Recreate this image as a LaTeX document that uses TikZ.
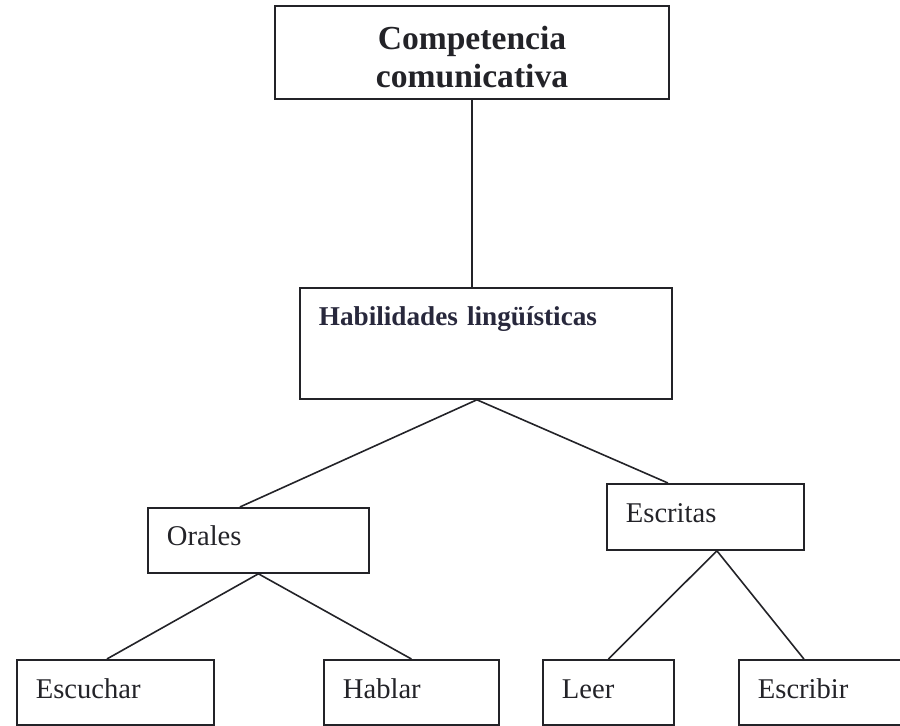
\documentclass[tikz,border=0pt]{standalone}
\usepackage{fontspec}
\setmainfont{Liberation Serif}
\definecolor{tinta}{RGB}{35,35,40}
\definecolor{tintaazul}{RGB}{40,40,60}
\tikzset{
  caja/.style={draw=tinta, rectangle, line width=0.9pt, inner ysep=0pt, inner xsep=9.5pt,
    align=left, anchor=north west, text=tinta, font=\fontsize{14.3}{17}\selectfont},
  rama/.style={draw=tinta, line width=0.8pt}
}
\begin{document}
\begin{tikzpicture}[x=0.5pt,y=-0.5pt]
  \useasboundingbox (0,0) rectangle (900,726);
  % arriba
  \path (472,52.5) node[draw=tinta,line width=0.9pt,minimum width=197pt,minimum height=46.5pt,
    align=center,text height=35pt,text=tinta,font=\fontsize{16.8}{19}\selectfont\bfseries] (comp) {Competencia\\comunicativa};
  \path (299,287) node[caja,text width=167pt,text height=19pt,text depth=36.5pt,text=tintaazul,
    font=\fontsize{13.6}{16}\selectfont\bfseries] (hab) {Habilidades lingüísticas};
  % medio
  \path (147,507) node[caja,text width=91.5pt,text height=19pt,text depth=13.5pt] (ora) {Orales};
  \path (606,483) node[caja,text width=79.5pt,text height=19.5pt,text depth=13.5pt] (esc) {Escritas};
  % abajo
  \path (16,659) node[caja,text width=79.5pt,text height=19.5pt,text depth=13pt] (escu) {Escuchar};
  \path (323,659) node[caja,text width=68.5pt,text height=19.5pt,text depth=13pt] (habl) {Hablar};
  \path (542,659) node[caja,text width=46.5pt,text height=19.5pt,text depth=13pt] (leer) {Leer};
  \path (738,659) node[caja,text width=64.5pt,text height=19.5pt,text depth=13pt] (escr) {Escribir};

  \draw[rama] (comp.south) -- (comp.south |- hab.north);
  \draw[rama] ([xshift=-4.5pt]hab.south) -- ([xshift=-9.25pt]ora.north);
  \draw[rama] ([xshift=-4.5pt]hab.south) -- ([xshift=-18.75pt]esc.north);
  \draw[rama] (ora.south) -- ([xshift=-4.25pt]escu.north);
  \draw[rama] (ora.south) -- (habl.north);
  \draw[rama] ([xshift=5.75pt]esc.south) -- (leer.north);
  \draw[rama] ([xshift=5.75pt]esc.south) -- ([xshift=-9.25pt]escr.north);
\end{tikzpicture}
\end{document}
